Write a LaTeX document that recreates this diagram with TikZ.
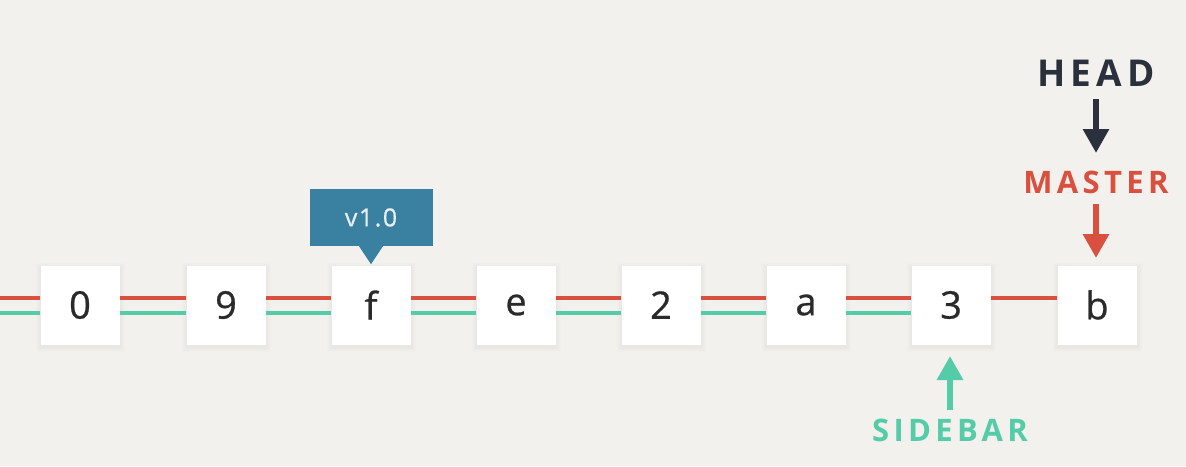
\documentclass[tikz,border=0pt]{standalone}
\usepackage{fontspec}
\setmainfont{Open Sans}
\newfontfamily\labfont[LetterSpace=14]{Open Sans Bold}
\newfontfamily\tagfont[LetterSpace=6,FakeBold=0.6]{Open Sans}
\newfontfamily\comfont[FakeBold=0.7]{Open Sans}
\usetikzlibrary{arrows.meta}
\definecolor{bg}{HTML}{F2F1ED}
\definecolor{redc}{HTML}{D9503F}
\definecolor{tealc}{HTML}{55CCA8}
\definecolor{darkc}{HTML}{2A313C}
\definecolor{tagc}{HTML}{3A80A0}
\definecolor{txtc}{HTML}{2A2A2A}
\tikzset{
  commit/.style={fill=white, minimum width=79pt, minimum height=79pt, inner sep=0pt,
    font=\comfont\fontsize{38}{38}\selectfont, text=txtc},
  redl/.style={draw=redc, line width=4pt},
  teall/.style={draw=tealc, line width=4pt},
  bigarrow/.style={line width=6pt, -{Triangle[width=25pt,length=24pt]}},
  label/.style={inner sep=0pt, font=\labfont\fontsize{31}{31}\selectfont}
}
\begin{document}
\begin{tikzpicture}[x=1pt,y=-1pt]
\fill[bg] (0,0) rectangle (1186,466);
\useasboundingbox (0,0) rectangle (1186,466);
% soft shadows
\foreach \x in {80,226,371,516,661,806,951,1097}{
  \foreach \d in {1,2,3,4,5}{
    \fill[black,opacity=0.008] (\x-39.5-\d,265.5-\d+2) rectangle (\x+39.5+\d,344.5+\d+2);
  }
}
\coordinate (start) at (0,305);
\node[commit] (n0) at (80,305) {};
\node[commit] (n1) at (226,305) {};
\node[commit] (n2) at (371,305) {};
\node[commit] (n3) at (516,305) {};
\node[commit] (n4) at (661,305) {};
\node[commit] (n5) at (806,305) {};
\node[commit] (n6) at (951,305) {};
\node[commit] (n7) at (1097,305) {};
% lines
\draw[redl] ([yshift=7pt]start) -- ([yshift=7pt]n0.west);
\draw[teall] ([yshift=-8pt]start) -- ([yshift=-8pt]n0.west);
\foreach \a/\b in {n0/n1,n1/n2,n2/n3,n3/n4,n4/n5,n5/n6}{
  \draw[redl] ([yshift=7pt]\a.east) -- ([yshift=7pt]\b.west);
  \draw[teall] ([yshift=-8pt]\a.east) -- ([yshift=-8pt]\b.west);
}
\draw[redl] ([yshift=7pt]n6.east) -- ([yshift=7pt]n7.west);
% commit texts
\node[commit] at (n0) {0};
\node[commit] at (n1) {9};
\node[commit] at (n2) {f};
\node[commit] at (n3) {e};
\node[commit] at (n4) {2};
\node[commit] at (n5) {a};
\node[commit] at (n6) {3};
\node[commit] at (n7) {b};
% tag
\node[fill=tagc, minimum width=123pt, minimum height=57pt, inner sep=0pt,
  text=white!88!tagc, font=\tagfont\fontsize{25}{25}\selectfont] (tag) at (371,217.5) {v1.0};
\fill[tagc] ([xshift=-12pt]tag.south) -- ([xshift=12pt]tag.south) -- ([yshift=-18pt]tag.south) -- cycle;
% labels
\node[label, text=darkc, font=\labfont\fontsize{37}{37}\selectfont] (head) at (1096,73) {HEAD};
\node[label, text=redc] (master) at (1096,182) {MASTER};
\node[label, text=tealc] (sidebar) at (950,430) {SIDEBAR};
\coordinate (h0) at (1096,99);
\coordinate (h1) at (1096,153);
\coordinate (m0) at (1096,204);
\coordinate (m1) at (1096,258);
\coordinate (s0) at (950,410);
\coordinate (s1) at (950,356);
\draw[bigarrow, draw=darkc, fill=darkc] (h0) -- (h1);
\draw[bigarrow, draw=redc, fill=redc] (m0) -- (m1);
\draw[bigarrow, draw=tealc, fill=tealc] (s0) -- (s1);
\end{tikzpicture}
\end{document}
